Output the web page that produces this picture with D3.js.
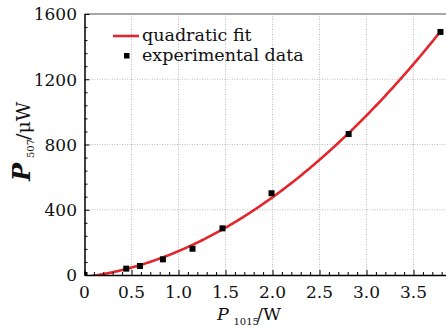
<!DOCTYPE html>
<html>
<head>
<meta charset="utf-8">
<script src="https://cdn.jsdelivr.net/npm/d3@7"></script>
<style>
  body { margin: 0; background: #fff; }
  svg { display: block; }
  .tick-label { font-family: 'DejaVu Serif', serif; font-size: 17px; fill: #111; }
  .legend-text { font-family: 'DejaVu Serif', serif; font-size: 17.5px; fill: #111; }
  .axis-title { font-family: 'DejaVu Serif', serif; fill: #111; }
</style>
</head>
<body>
<svg id="chart" width="446" height="333"></svg>
<script>
// pump power P1015 (W) vs. generated power P507 (uW)
const pumpPower = [0, 0.444, 0.59, 0.834, 1.149, 1.468, 1.99, 2.81, 3.787];
const outPower = [0, 39, 55, 96, 161, 286, 501, 864, 1490];

const xTicks = [0, 0.5, 1.0, 1.5, 2.0, 2.5, 3.0, 3.5];
const xTickLabels = ['0', '0.5', '1.0', '1.5', '2.0', '2.5', '3.0', '3.5'];
const yTicks = [0, 400, 800, 1200, 1600];
const yTickLabels = ['0', '400', '800', '1200', '1600'];

const legendLabels = ['quadratic fit', 'experimental data'];

let svg = d3.select('#chart');

let xPos = d3.scaleLinear().domain([0, 4]).range([84.5, 460.5]);
let yPos = d3.scaleLinear().domain([0, 1600]).range([275, 14]);

let pLeft = xPos(0), pRight = 446, pTop = yPos(1600), pBottom = yPos(0);

// least squares quadratic fit of the measured points
function quadFit(xs, ys) {
  let s = [0, 0, 0, 0, 0], t = [0, 0, 0];
  xs.forEach((x, i) => {
    for (let k = 0; k < 5; k++) s[k] += Math.pow(x, k);
    for (let k = 0; k < 3; k++) t[k] += ys[i] * Math.pow(x, k);
  });
  let m = [
    [s[0], s[1], s[2], t[0]],
    [s[1], s[2], s[3], t[1]],
    [s[2], s[3], s[4], t[2]]
  ];
  for (let c = 0; c < 3; c++) {
    for (let r = c + 1; r < 3; r++) {
      let f = m[r][c] / m[c][c];
      for (let k = c; k < 4; k++) m[r][k] -= f * m[c][k];
    }
  }
  let coef = [0, 0, 0];
  for (let r = 2; r >= 0; r--) {
    let v = m[r][3];
    for (let k = r + 1; k < 3; k++) v -= m[r][k] * coef[k];
    coef[r] = v / m[r][r];
  }
  return coef; // c0 + c1 x + c2 x^2
}
let coef = quadFit(pumpPower, outPower);

svg.append('defs').append('clipPath').attr('id', 'plot-clip')
  .append('rect')
  .attr('x', pLeft).attr('y', pTop)
  .attr('width', pRight - pLeft).attr('height', pBottom - pTop);

// grid
let grid = svg.append('g');
grid.selectAll('.gx')
  .data(xTicks.filter((d) => d > 0))
  .join('line')
  .attr('x1', (d) => xPos(d)).attr('x2', (d) => xPos(d))
  .attr('y1', pTop).attr('y2', pBottom)
  .attr('stroke', '#bdbdbd').attr('stroke-width', 1)
  .attr('stroke-dasharray', '1,1.5');
grid.selectAll('.gy')
  .data(yTicks.filter((d) => d > 0 && d < 1600))
  .join('line')
  .attr('x1', pLeft).attr('x2', pRight)
  .attr('y1', (d) => yPos(d)).attr('y2', (d) => yPos(d))
  .attr('stroke', '#bdbdbd').attr('stroke-width', 1)
  .attr('stroke-dasharray', '1,1.5');

// fit curve
let fitX = d3.range(0, 3.79, 0.01).concat([3.79]);
let line = d3.line()
  .x((d) => xPos(d))
  .y((d) => yPos(coef[0] + coef[1] * d + coef[2] * d * d));

let plot = svg.append('g').attr('clip-path', 'url(#plot-clip)');
plot.append('path')
  .datum(fitX)
  .attr('d', line)
  .attr('fill', 'none')
  .attr('stroke', '#e3262b')
  .attr('stroke-width', 2.6);

plot.selectAll('rect.pt')
  .data(pumpPower.map((x, i) => ({ x: x, y: outPower[i] })))
  .join('rect')
  .attr('class', 'pt')
  .attr('x', (d) => xPos(d.x) - 3)
  .attr('y', (d) => yPos(d.y) - 3)
  .attr('width', 6).attr('height', 6)
  .attr('fill', '#000');

// frame
svg.append('line')
  .attr('x1', pLeft).attr('x2', pRight).attr('y1', pTop).attr('y2', pTop)
  .attr('stroke', '#8a8a8a').attr('stroke-width', 1.5);

let xAxis = d3.axisBottom(xPos)
  .tickValues(d3.range(0, 41).map((d) => d / 10))
  .tickSizeInner(-3).tickSizeOuter(0).tickFormat('');
let gx = svg.append('g').attr('transform', `translate(0,${pBottom})`).call(xAxis);
gx.selectAll('.tick line').filter((d) => Math.round(d * 10) % 5 == 0).attr('y2', -5);

let yAxis = d3.axisLeft(yPos)
  .tickValues(d3.range(0, 1601, 80))
  .tickSizeInner(-3).tickSizeOuter(0).tickFormat('');
let gy = svg.append('g').attr('transform', `translate(${pLeft},0)`).call(yAxis);
gy.selectAll('.tick line').filter((d) => d % 400 == 0).attr('x2', 5);

[gx, gy].forEach((g) => {
  g.select('.domain').attr('stroke', '#000').attr('stroke-width', 1.5);
  g.selectAll('.tick line').attr('stroke', '#000').attr('stroke-width', 1);
});

// tick labels
svg.selectAll('.xl')
  .data(xTicks)
  .join('text')
  .attr('class', 'tick-label')
  .attr('x', (d) => xPos(d))
  .attr('y', 298)
  .attr('text-anchor', 'middle')
  .text((d, i) => xTickLabels[i]);

svg.selectAll('.yl')
  .data(yTicks)
  .join('text')
  .attr('class', 'tick-label')
  .attr('x', 77)
  .attr('y', (d) => yPos(d) + 6.3)
  .attr('text-anchor', 'end')
  .text((d, i) => yTickLabels[i]);

// legend
let lg = svg.append('g');
lg.append('line')
  .attr('x1', 113).attr('x2', 139).attr('y1', 36).attr('y2', 36)
  .attr('stroke', '#e3262b').attr('stroke-width', 2.6);
lg.append('rect')
  .attr('x', 124).attr('y', 53).attr('width', 5.5).attr('height', 5.5)
  .attr('fill', '#000');
lg.selectAll('text')
  .data(legendLabels)
  .join('text')
  .attr('class', 'legend-text')
  .attr('x', 142)
  .attr('y', (d, i) => 41 + i * 20)
  .text((d) => d);

// axis titles
let xt = svg.append('text').attr('class', 'axis-title').attr('y', 319.5);
xt.append('tspan').attr('x', 217).attr('font-size', 17.5).attr('font-style', 'italic').text('P');
xt.append('tspan').attr('x', 233.5).attr('dy', 5).attr('font-size', 10).text('1015');
xt.append('tspan').attr('x', 257).attr('dy', -5).attr('font-size', 17.5).text('/W');

let yt = svg.append('text').attr('class', 'axis-title')
  .attr('transform', 'translate(30,181) rotate(-90)');
yt.append('tspan').attr('x', 0).attr('font-size', 24).attr('font-style', 'italic').attr('font-weight', 'bold').text('P');
yt.append('tspan').attr('x', 23).attr('dy', 4).attr('font-size', 10).text('507');
yt.append('tspan').attr('x', 41).attr('dy', -4).attr('font-size', 19).text('/μW');
</script>
</body>
</html>
